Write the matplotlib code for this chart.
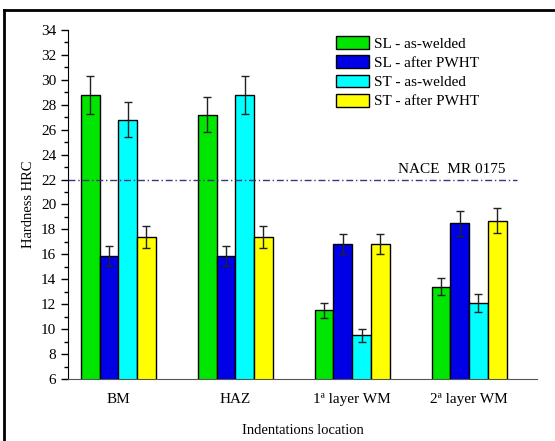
import numpy as np
import matplotlib.pyplot as plt
from matplotlib.ticker import MultipleLocator
from matplotlib.lines import Line2D

# hardness data
locations = ['BM', 'HAZ', '1ª layer WM', '2ª layer WM']
series = ['SL - as-welded', 'SL - after PWHT', 'ST - as-welded', 'ST - after PWHT']
colors = ['#00e600', '#0000e6', '#00ffff', '#ffff00']

sl_welded = [28.8, 27.2, 11.5, 13.4]
sl_pwht = [15.9, 15.9, 16.8, 18.5]
st_welded = [26.8, 28.8, 9.5, 12.1]
st_pwht = [17.4, 17.4, 16.8, 18.7]

sl_welded_err = [1.5, 1.4, 0.6, 0.7]
sl_pwht_err = [0.8, 0.8, 0.8, 1.0]
st_welded_err = [1.4, 1.5, 0.5, 0.7]
st_pwht_err = [0.9, 0.9, 0.8, 1.0]

nace_limit = 22
nace_end = 3.41

values = [sl_welded, sl_pwht, st_welded, st_pwht]
errors = [sl_welded_err, sl_pwht_err, st_welded_err, st_pwht_err]

plt.rcParams['font.family'] = ['Liberation Serif', 'DejaVu Serif']

fig = plt.figure(figsize=(5.55, 4.41), dpi=100)
ax = fig.add_axes([0.1225, 0.1406, 0.845, 0.7914])

x = np.arange(len(locations))
w = 0.16
for i in range(4):
    ax.bar(x + (i - 1.5) * w, values[i], w, bottom=0, color=colors[i],
           edgecolor='black', linewidth=1, label=series[i],
           yerr=errors[i], capsize=3,
           error_kw=dict(ecolor='#222222', elinewidth=1, capthick=1))

ax.plot([-0.43, nace_end], [nace_limit, nace_limit], color='#3f3380',
        linestyle=(0, (5, 2, 1, 2)), linewidth=1)
ax.text(2.85, nace_limit + 0.3, 'NACE  MR 0175', ha='center', va='bottom',
        fontsize=11)

ax.set_xlim(-0.43, 3.58)
ax.set_ylim(6, 34)
ax.yaxis.set_major_locator(MultipleLocator(2))
ax.yaxis.set_minor_locator(MultipleLocator(1))
ax.tick_params(axis='y', which='major', direction='out', length=5, width=1,
               labelsize=11)
ax.tick_params(axis='y', which='minor', direction='out', length=3, width=1)
ax.tick_params(axis='x', length=0, labelsize=11, pad=10)
ax.set_xticks(x)
ax.set_xticklabels(locations)

ax.spines['top'].set_visible(False)
ax.spines['right'].set_visible(False)
ax.spines['bottom'].set_color('#555555')

ax.set_ylabel('Hardness HRC', fontsize=10.5, labelpad=4)
ax.set_xlabel('Indentations location', fontsize=10.5, labelpad=13)

ax.legend(loc='upper left', bbox_to_anchor=(0.591, 0.935),
          bbox_transform=fig.transFigure, frameon=False, fontsize=11,
          handlelength=2.2, handleheight=0.9, labelspacing=0.3,
          handletextpad=0.3, borderpad=0)

# outer frame
fig.add_artist(Line2D([0.0065, 0.0065], [0, 0.977], color='black', lw=2,
                      transform=fig.transFigure))
fig.add_artist(Line2D([0.0065, 1.0], [0.977, 0.977], color='black', lw=2,
                      transform=fig.transFigure))

fig.savefig('out.png', dpi=100)
